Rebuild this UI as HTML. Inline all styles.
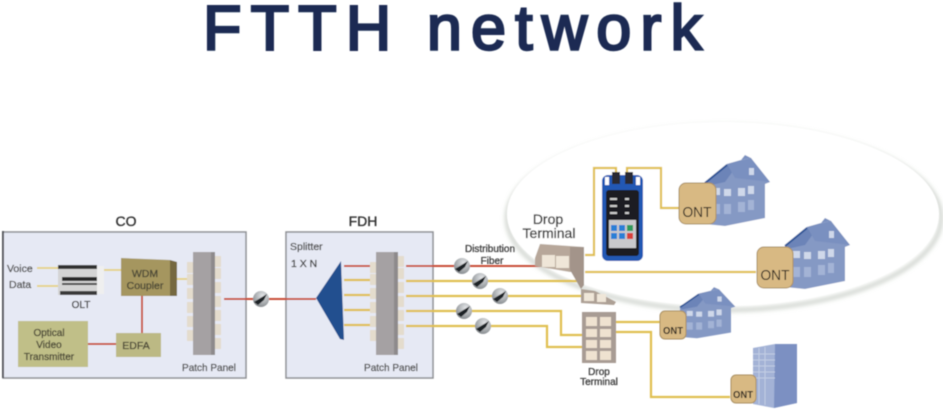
<!DOCTYPE html>
<html><head><meta charset="utf-8"><style>
html,body{margin:0;padding:0;background:#fff;width:943px;height:411px;overflow:hidden}
svg{display:block}
text{font-family:"Liberation Sans",sans-serif}
.t{stroke-width:.35;stroke:currentColor}
</style></head><body>
<svg width="943" height="411" viewBox="0 0 943 411" xmlns="http://www.w3.org/2000/svg">
<defs>
<filter id="b" x="-5%" y="-5%" width="110%" height="110%"><feGaussianBlur stdDeviation="0.6"/></filter>
<filter id="s" x="-10%" y="-10%" width="120%" height="120%"><feGaussianBlur stdDeviation="2"/></filter>
<radialGradient id="n" cx="0.6" cy="0.3" r="0.8"><stop offset="0" stop-color="#e4e6e8"/><stop offset="1" stop-color="#7d8286"/></radialGradient>
<g id="node"><circle r="8" fill="url(#n)"/><path d="M-7 3L6 -5L3 1L-3 6Z" fill="#1f2125"/></g>
<g id="house">
<path d="M0 30L22 12L30 16L36 8L46 6L50 12L65 30L60 32L60 66L20 74L0 72Z" fill="#8599c4"/>
<path d="M0 30L22 12L36 8L20 30L2 34Z" fill="#6c84b8"/>
<path d="M22 12L46 6L65 30L30 26Z" fill="#7a90c0"/>
<path d="M36 8L40 3L46 6Z" fill="#7a90c0"/>
<path d="M0 31L22 13" stroke="#2f5596" stroke-width="2"/>
<g fill="#cfd8ea"><rect x="8" y="36" width="7" height="7"/><rect x="19" y="37" width="7" height="7"/><rect x="33" y="36" width="7" height="8"/><rect x="43" y="34" width="6" height="8"/><rect x="44" y="16" width="5" height="7"/></g>
<g fill="#a3b3d5"><rect x="8" y="52" width="7" height="10"/><rect x="19" y="52" width="7" height="10"/><rect x="33" y="50" width="7" height="10"/><rect x="43" y="48" width="6" height="10"/></g>
</g>
<g id="port"><rect width="6" height="11" fill="#e4dccd"/></g>
<g id="pp">
<use href="#port" x="-6" y="10"/><use href="#port" x="-6" y="22"/><use href="#port" x="-6" y="36"/><use href="#port" x="-6" y="50"/><use href="#port" x="-6" y="64"/><use href="#port" x="-6" y="78"/>
<use href="#port" x="22" y="4"/><use href="#port" x="22" y="16"/><use href="#port" x="22" y="30"/><use href="#port" x="22" y="44"/><use href="#port" x="22" y="58"/><use href="#port" x="22" y="72"/><use href="#port" x="22" y="86"/>
<rect width="22" height="103" fill="#a5a1a3"/>
<rect x="18" width="4" height="103" fill="#8e8a8c"/>
</g>
</defs>

<g filter="url(#b)">
<text x="203" y="49.5" font-size="63" fill="#1c2c52" stroke="#1c2c52" stroke-width="2.4" textLength="499" lengthAdjust="spacing">FTTH network</text>

<!-- ellipse -->
<ellipse cx="724" cy="218" rx="217" ry="92" fill="none" stroke="#cfd3cd" stroke-width="4" filter="url(#s)"/>
<ellipse cx="723" cy="214" rx="216" ry="92" fill="#fff"/>

<!-- boxes -->
<rect x="3" y="232" width="243" height="146" fill="#e6e9f4" stroke="#8e9094" stroke-width="1.5"/>
<rect x="2" y="231" width="2" height="147" fill="#55575c"/>
<rect x="286" y="232" width="147" height="146" fill="#e6e9f4" stroke="#8e9094" stroke-width="1.5"/>

<text class="t" x="126" y="226" font-size="14" text-anchor="middle" color="#333" fill="#333">CO</text>
<text class="t" x="363" y="226" font-size="14" text-anchor="middle" color="#333" fill="#333">FDH</text>

<!-- CO lines -->
<g fill="none" stroke="#e6d48a" stroke-width="2">
<path d="M37 268H58M37 286H58M103 270H122"/>
<path d="M176 279H193"/>
</g>
<g fill="none" stroke="#c94f38" stroke-width="2">
<path d="M142 296V333M88 344H116M224 299H316"/>
</g>

<text class="t" x="7" y="272" font-size="10.5" color="#555" fill="#555">Voice</text>
<text class="t" x="9" y="288" font-size="10.5" color="#555" fill="#555">Data</text>

<!-- OLT -->
<rect x="58" y="265" width="39" height="30" fill="#d4d4d4"/>
<rect x="58" y="265" width="39" height="4" fill="#333"/>
<rect x="62" y="277" width="35" height="4" fill="#2a2a2a"/>
<rect x="62" y="283" width="35" height="2" fill="#444"/>
<rect x="60" y="291" width="37" height="4" fill="#3a3a3a"/>
<rect x="97" y="266" width="7" height="28" fill="#efefef"/>
<text class="t" x="81" y="308" font-size="10" text-anchor="middle" color="#444" fill="#444">OLT</text>

<!-- WDM -->
<path d="M121 258L170 260V296H121Z" fill="#a5965f"/>
<path d="M170 260L177 262V296L170 296Z" fill="#75683f"/>
<text class="t" x="145" y="277" font-size="10.5" text-anchor="middle" color="#4d4a38" fill="#4d4a38">WDM</text>
<text class="t" x="145" y="289" font-size="10.5" text-anchor="middle" color="#4d4a38" fill="#4d4a38">Coupler</text>

<!-- Optical -->
<rect x="18" y="321" width="70" height="46" fill="#c0bf88"/>
<text class="t" x="49" y="336" font-size="10" text-anchor="middle" color="#4d4a38" fill="#4d4a38">Optical</text>
<text class="t" x="49" y="348" font-size="10" text-anchor="middle" color="#4d4a38" fill="#4d4a38">Video</text>
<text class="t" x="49" y="360" font-size="10" text-anchor="middle" color="#4d4a38" fill="#4d4a38">Transmitter</text>
<!-- EDFA -->
<rect x="116" y="333" width="45" height="24" fill="#bcb984"/>
<text class="t" x="136" y="349" font-size="10.5" text-anchor="middle" color="#4d4a38" fill="#4d4a38">EDFA</text>

<use href="#pp" x="193" y="252"/>
<text class="t" x="209" y="371" font-size="10" text-anchor="middle" color="#555" fill="#555">Patch Panel</text>
<use href="#node" x="261" y="299"/>

<!-- FDH -->
<text class="t" x="290" y="250" font-size="10.5" color="#555" fill="#555">Splitter</text>
<text class="t" x="291" y="267" font-size="10.5" color="#444" fill="#444">1 X N</text>
<path d="M316 298L341 261L344 340L340 339Z" fill="#24508f"/>
<g fill="none" stroke="#e0c050" stroke-width="2.2">
<path d="M344 280H370M344 295H370M344 310H370M344 325H370"/>
<path d="M406 281H577M406 296H582M406 311H561V335H582M406 326H547V347H582"/>
<path d="M585 255H594V168H616V175M627 175V168H661V208H680M585 272H756M616 322H660M616 332H651V397H730"/>
</g>
<g fill="none" stroke="#c94f38" stroke-width="2"><path d="M344 266H370M406 266H545"/></g>
<use href="#pp" x="376" y="252"/>
<text class="t" x="391" y="371" font-size="10" text-anchor="middle" color="#555" fill="#555">Patch Panel</text>
<use href="#node" x="462" y="266"/><use href="#node" x="480" y="281"/><use href="#node" x="500" y="296"/><use href="#node" x="464" y="311"/><use href="#node" x="483" y="326"/>
<text class="t" x="490" y="252" font-size="10" text-anchor="middle" color="#444" fill="#444">Distribution</text>
<text class="t" x="492" y="264" font-size="10" text-anchor="middle" color="#444" fill="#444">Fiber</text>

<!-- Drop terminals -->
<text class="t" x="548" y="224" font-size="14" text-anchor="middle" color="#3d3d3d" fill="#3d3d3d">Drop</text>
<text class="t" x="549" y="238" font-size="14" text-anchor="middle" color="#3d3d3d" fill="#3d3d3d">Terminal</text>
<path d="M535 258L540 244L584 247V272H570L535 266Z" fill="#b7a79a"/>
<rect x="542" y="255" width="13" height="12" fill="#efe6d8"/><rect x="556" y="256" width="13" height="12" fill="#efe6d8"/>
<path d="M570 247H584V285L581 289L570 270Z" fill="#a3948a"/>
<path d="M581 289L595 291L616 302L614 305L581 303Z" fill="#ada095"/>
<rect x="584" y="293" width="10" height="8" fill="#efe6d8"/><rect x="597" y="294" width="9" height="8" fill="#efe6d8"/>
<rect x="582" y="312" width="34" height="51" fill="#a89c94"/>
<g fill="#efe2d0"><rect x="586" y="317" width="11" height="9"/><rect x="600" y="317" width="11" height="9"/><rect x="586" y="329" width="11" height="8"/><rect x="600" y="329" width="11" height="8"/><rect x="586" y="340" width="11" height="8"/><rect x="600" y="340" width="11" height="8"/><rect x="586" y="351" width="11" height="9"/><rect x="600" y="351" width="11" height="9"/></g>
<text class="t" x="599" y="375" font-size="10" text-anchor="middle" color="#444" fill="#444">Drop</text>
<text class="t" x="599" y="385" font-size="10" text-anchor="middle" color="#444" fill="#444">Terminal</text>

<!-- Tester -->
<rect x="602" y="175" width="41" height="86" rx="6" fill="#2259b4"/>
<rect x="606" y="190" width="33" height="66" rx="3" fill="#1a1a22"/>
<rect x="612" y="172" width="8" height="12" fill="#2c2c30"/><rect x="625" y="172" width="8" height="12" fill="#2c2c30"/>
<rect x="605" y="177" width="4" height="8" fill="#fff"/><rect x="636" y="177" width="4" height="8" fill="#fff"/>
<rect x="609" y="220" width="27" height="28" fill="#c9c9cc"/>
<g fill="#2b7fd6"><rect x="611" y="225" width="6" height="6"/><rect x="619" y="225" width="6" height="6"/><rect x="611" y="233" width="6" height="6"/><rect x="619" y="233" width="6" height="6"/></g>
<rect x="627" y="225" width="6" height="6" fill="#2e9a5b"/><rect x="627" y="233" width="6" height="6" fill="#d8403a"/>
<g fill="#ccc"><rect x="610" y="198" width="7" height="2"/><rect x="625" y="198" width="4" height="2"/><rect x="610" y="205" width="7" height="2"/><rect x="625" y="205" width="4" height="2"/><rect x="610" y="212" width="7" height="2"/><rect x="625" y="212" width="4" height="2"/></g>

<!-- Houses -->
<use href="#house" x="705" y="152"/>
<use href="#house" x="785" y="215"/>
<use href="#house" transform="translate(680 285) scale(.85 .72)"/>
<!-- Building -->
<path d="M753 348L775 344H797V403L774 408L753 404Z" fill="#a3b2d6"/>
<path d="M775 344H797V403L774 408Z" fill="#7c90c2"/>
<g stroke="#c3cde4" stroke-width="1"><path d="M753 354H775M753 360H775M753 366H775M753 372H775M753 378H775M759 348V404M765 347V405"/></g>

<!-- ONTs -->
<g fill="#d8b983" stroke="#a98f62">
<rect x="679" y="183" width="37" height="41" rx="7"/>
<rect x="757" y="247" width="36" height="41" rx="7"/>
<rect x="660" y="311" width="26" height="28" rx="5"/>
<rect x="731" y="375" width="25" height="28" rx="5"/>
</g>
<g text-anchor="middle" fill="#2c2620">
<text x="697" y="217" font-size="15" textLength="29" lengthAdjust="spacingAndGlyphs">ONT</text>
<text x="775" y="280" font-size="15" textLength="29" lengthAdjust="spacingAndGlyphs">ONT</text>
<text x="673" y="334" font-size="10" font-weight="bold" textLength="20" lengthAdjust="spacingAndGlyphs">ONT</text>
<text x="743" y="398" font-size="10" font-weight="bold" textLength="20" lengthAdjust="spacingAndGlyphs">ONT</text>
</g>
</g>
</svg>
</body></html>
